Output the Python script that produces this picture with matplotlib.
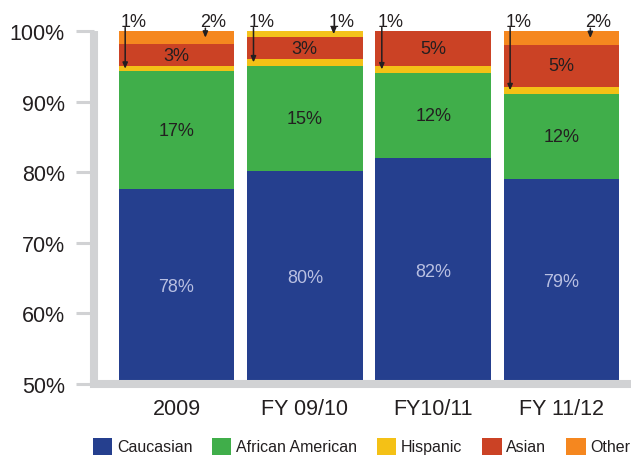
#! /usr/bin/env python

# Stacked bar chart of enrollment by ethnicity (top half, 50-100%)

import numpy as np
import matplotlib
matplotlib.use("Agg")
import matplotlib.pyplot as plt
from matplotlib.patches import Patch

plt.rcParams['font.family'] = ['Liberation Sans', 'DejaVu Sans']

# data (percent)
years = ['2009', 'FY 09/10', 'FY10/11', 'FY 11/12']
caucasian = [77.6, 80.1, 82.0, 79.0]
african_american = [16.7, 15.0, 12.1, 12.1]
hispanic = [0.7, 0.9, 0.9, 1.0]
asian = [3.1, 3.1, 5.0, 5.9]
other = [1.9, 0.9, 0.0, 2.0]

# labels as printed on the chart
cauc_labels = ['78%', '80%', '82%', '79%']
aa_labels = ['17%', '15%', '12%', '12%']
asian_labels = ['3%', '3%', '5%', '5%']
hisp_labels = ['1%', '1%', '1%', '1%']
other_labels = ['2%', '1%', '', '2%']

names = ['Caucasian', 'African American', 'Hispanic', 'Asian', 'Other']
colors = ['#253F8E', '#40AE4A', '#F4C116', '#CB4225', '#F5871F']
other_colors = ['#F5871F', '#F4C21C', '#F5871F', '#F5871F']  # 2nd bar top drawn yellow
text_col = '#231F20'
grey = '#D1D2D4'

fig = plt.figure(figsize=(6.31, 4.60), dpi=100)
ax = fig.add_axes([94/631, 75/460, 1 - 94/631, 353/460])

x = np.arange(len(years))
w = 0.9
series = [caucasian, african_american, hispanic, asian, other]
bottom = np.zeros(len(years))
for i, s in enumerate(series):
    col = other_colors if i == 4 else colors[i]
    ax.bar(x, s, w, bottom=bottom, color=col, linewidth=0, zorder=2)
    bottom += np.array(s)

ax.set_ylim(50, 100)
ax.set_xlim(-0.643, 3.542)

c = np.array(caucasian)
a = np.array(african_american)
h = np.array(hispanic)
s_ = np.array(asian)
o = np.array(other)

arrow = dict(arrowstyle='-|>,head_length=0.35,head_width=0.15',
             color=text_col, lw=1.1, shrinkA=0, shrinkB=0)

for i in range(len(years)):
    # inside labels
    ax.text(x[i], (50 + c[i]) / 2, cauc_labels[i], ha='center', va='center',
            fontsize=13, color='#B9C0E2', zorder=3)
    ax.text(x[i], c[i] + a[i] / 2, aa_labels[i], ha='center', va='center',
            fontsize=13, color=text_col, zorder=3)
    ax.text(x[i], c[i] + a[i] + h[i] + s_[i] / 2, asian_labels[i], ha='center',
            va='center', fontsize=13, color=text_col, zorder=3)

    # hispanic callout (left)
    tip = c[i] + a[i] + h[i] / 2
    ax.annotate('', xy=(x[i] - 0.40, tip), xytext=(x[i] - 0.40, 100.5),
                arrowprops=arrow, annotation_clip=False, zorder=4)
    ax.text(x[i] - 0.333, 101.3, hisp_labels[i], ha='center', va='center',
            fontsize=13, color=text_col, clip_on=False)

    # other callout (right)
    if other_labels[i]:
        tip = 100 - o[i] / 2
        ax.annotate('', xy=(x[i] + 0.225, tip), xytext=(x[i] + 0.225, 100.4),
                    arrowprops=arrow, annotation_clip=False, zorder=4)
        ax.text(x[i] + 0.286, 101.3, other_labels[i], ha='center', va='center',
                fontsize=13, color=text_col, clip_on=False)

# axes styling
for side in ['top', 'right']:
    ax.spines[side].set_visible(False)
for side in ['left', 'bottom']:
    ax.spines[side].set_color(grey)
    ax.spines[side].set_linewidth(5.8)
    ax.spines[side].set_zorder(3)
ax.spines['left'].set_capstyle('butt')
ax.spines['bottom'].set_capstyle('projecting')

ax.set_yticks([50, 60, 70, 80, 90, 100])
ax.set_yticklabels(['50%', '60%', '70%', '80%', '90%', '100%'])
ax.tick_params(axis='y', length=13, width=2.2, color=grey, pad=8,
               labelsize=15.5, labelcolor=text_col)
ax.set_xticks(x)
ax.set_xticklabels(years)
ax.tick_params(axis='x', length=0, pad=10, labelsize=15.5, labelcolor=text_col)

handles = [Patch(facecolor=colors[i], edgecolor='none') for i in range(5)]
fig.legend(handles, names, loc='center', bbox_to_anchor=(0.573, 0.028), ncol=5,
           frameon=False, fontsize=11.5, handlelength=1.2, handleheight=1.25,
           handletextpad=0.3, columnspacing=1.25, labelcolor=text_col,
           borderpad=0, borderaxespad=0)

plt.savefig('out.png', dpi=100)
